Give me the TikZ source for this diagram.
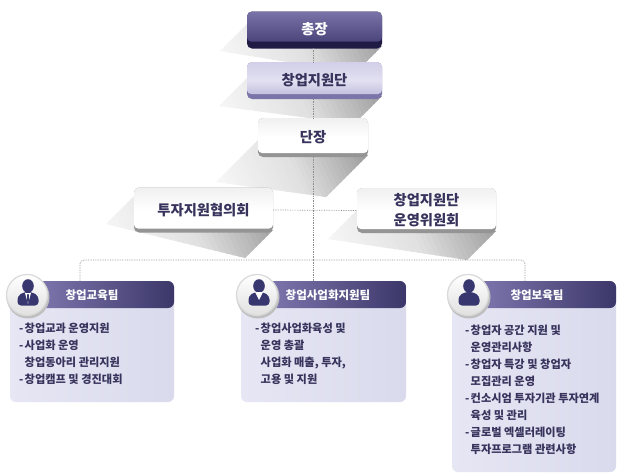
\documentclass[tikz,border=0pt]{standalone}
\usepackage{fontspec}
\setmainfont{Noto Sans CJK KR}
\usetikzlibrary{calc}
\definecolor{ink}{HTML}{37335C}
\definecolor{iconc}{HTML}{37366F}
\definecolor{rule}{HTML}{8E8E8E}
\definecolor{chiefband}{HTML}{1F1B45}
\definecolor{chieftop}{HTML}{7A73A8}
\definecolor{chieflow}{HTML}{3F3A70}
\definecolor{deptband}{HTML}{7B74A8}
\definecolor{depttop}{HTML}{D2CFE8}
\definecolor{deptmid}{HTML}{E2E0F1}
\definecolor{deptlow}{HTML}{B9B4D8}
\definecolor{panelL}{HTML}{E6E6F4}
\definecolor{panelR}{HTML}{D9DAEC}
\definecolor{bandL}{HTML}{8A83BC}
\definecolor{bandR}{HTML}{3C3769}
\newcommand{\longshade}[5]{% left top right bottom length
  \begin{scope}
    \clip (#1,#2) -- (#3,#4) -- ({#3-#5},{#4+#5}) -- ({#1-#5},{#2+#5}) -- cycle;
    \pgfmathsetmacro{\cxx}{(#1-#5+#3)/2}
    \pgfmathsetmacro{\cyy}{(#2+#4+#5)/2}
    \pgfmathsetmacro{\hw}{(#3-#1+#5)/2}
    \pgfmathsetmacro{\lenu}{1.33*\hw}
    \begin{scope}[shift={(\cxx,\cyy)},rotate=25]
      \foreach \i in {0,...,44}{
        \pgfmathsetmacro{\tt}{\i/45}
        \pgfmathsetmacro{\pp}{\tt<0.5 ? 24*\tt : 12+76*(\tt-0.5)}
        \fill[black!\pp] ({-\lenu+2*\lenu*\tt},{-2*\hw}) rectangle ({-\lenu+2*\lenu*(\tt+0.03)},{2*\hw});
      }
    \end{scope}
  \end{scope}}
\newcommand{\dl}{\makebox[5.5pt][l]{-}}
\newcommand{\cl}{\hspace*{5.5pt}}
\tikzset{
  x=1pt,y=-1pt,
  boxbase/.style={rounded corners=5pt,inner sep=0pt,align=center,font=\fontsize{14.3}{20}\selectfont\bfseries,text=ink},
  whitebox/.style={boxbase,fill=black!42,
    path picture={\shade[rounded corners=4pt,top color=black!6,bottom color=white,middle color=white]
      ([yshift=0.5pt]path picture bounding box.north west) rectangle ([yshift=4pt]path picture bounding box.south east);}},
  chiefbox/.style={boxbase,fill=chiefband,text=white,
    path picture={\shade[rounded corners=4pt,top color=chieftop,bottom color=chieflow]
      (path picture bounding box.north west) rectangle ([yshift=7pt]path picture bounding box.south east);}},
  deptbox/.style={boxbase,fill=deptband,
    path picture={\shade[rounded corners=4pt,top color=depttop,bottom color=deptlow,middle color=deptmid]
      (path picture bounding box.north west) rectangle ([yshift=5pt]path picture bounding box.south east);}},
  link/.style={draw=rule,densely dotted,line width=0.7pt},
  teambox/.style={rounded corners=6pt,inner sep=0pt,left color=panelL,right color=panelR},
  teamhead/.style={font=\fontsize{11.5}{14}\selectfont\bfseries,text=white},
  teambody/.style={align=left,anchor=north west,inner sep=0pt,text=ink,font=\fontsize{11.2}{17}\selectfont\bfseries},
  portrait/.style={circle,minimum size=41pt,inner sep=0pt,draw=black!15,line width=1.2pt,
    top color=white,bottom color=black!12},
}
\newcommand{\teamband}[4]{% left top right bottom
  \shade[left color=bandL,right color=bandR]
    [rounded corners=6pt] (#1,#4) -- (#1,#2) -- (#3,#2) -- (#3,#4) [sharp corners] -- cycle;}
\newcommand{\personbody}[2]{% cx cy
  \fill[iconc] ({#1},{#2-9}) ellipse (5.8pt and 6.8pt);
  \fill[iconc,rounded corners=3.5pt] ({#1-10.5},{#2+10.5}) -- ({#1-10.5},{#2+1}) -- ({#1-4},{#2-3}) -- ({#1+4},{#2-3}) -- ({#1+10.5},{#2+1}) -- ({#1+10.5},{#2+10.5}) -- cycle;}
\begin{document}
\begin{tikzpicture}
\useasboundingbox (0,0) rectangle (624,474);
\fill[white] (0,0) rectangle (624,474);
% long shadows
\longshade{247}{24}{382}{46}{27}
\longshade{247}{78}{382}{96}{28}
\longshade{258}{140}{368}{155}{42}
\longshade{134}{196}{273}{230}{28}
\longshade{357}{210}{496}{231}{29}
% boxes
\node[chiefbox,minimum width=135pt,minimum height=37pt] (chief) at (314.5,30) {\raisebox{3pt}{총장}};
\node[deptbox,minimum width=135pt,minimum height=37pt] (dept) at (314.5,80.5) {\raisebox{3pt}{창업지원단}};
\node[whitebox,minimum width=110pt,minimum height=39pt] (lead) at (313,137.5) {\raisebox{2pt}{단장}};
\node[whitebox,minimum width=139pt,minimum height=45pt] (invest) at (203.5,210) {\raisebox{2pt}{투자지원협의회}};
\node[whitebox,minimum width=139pt,minimum height=45pt] (board) at (426.5,210.5) {창업지원단\\운영위원회};
% connectors
\coordinate (bus) at (313,260);
\coordinate (drop1) at (80,281);
\coordinate (drop2) at (313,281);
\coordinate (drop3) at (525,281);
\coordinate (leadfoot) at (313,157);
\draw[link] (313,48) -- (313,62);
\draw[link] (313,99) -- (313,118);
\draw[link] (leadfoot) -- (bus);
\draw[link] (invest.east) -- (board.west);
\draw[link,rounded corners=4pt] (drop1) |- (bus);
\draw[link,rounded corners=4pt] (drop3) |- (bus);
\draw[link] (bus) -- (drop2);
% team panels
\node[teambox,minimum width=164pt,minimum height=121pt] (panelA) at (92,341.5) {};
\node[teambox,minimum width=165pt,minimum height=121pt] (panelB) at (323.5,341.5) {};
\node[teambox,minimum width=164pt,minimum height=191pt] (panelC) at (534,376.5) {};
\teamband{10}{281}{174}{308}
\teamband{241}{281}{406}{308}
\teamband{452}{281}{616}{308}
\node[teamhead] (headA) at (92,295) {창업교육팀};
\node[teamhead] (headB) at (328,295) {창업사업화지원팀};
\node[teamhead] (headC) at (537,295) {창업보육팀};
% portraits
\fill[black!25] (28,297) circle (21.5pt);
\fill[black!25] (258,297) circle (21.5pt);
\fill[black!25] (469,297) circle (21.5pt);
\node[portrait] (faceA) at (27,295) {};
\node[portrait] (faceB) at (257,295) {};
\node[portrait] (faceC) at (468,295) {};
\personbody{28}{295}
\fill[white] (25,293) -- (31,293) -- (28,304) -- cycle;
\fill[iconc] (27.3,294) -- (28.7,294) -- (29.1,300) -- (28,304) -- (26.9,300) -- cycle;
\personbody{259}{295}
\fill[white] (255,292) -- (263,292) -- (259,300) -- cycle;
\personbody{469}{295}
% team texts
\node[teambody] (textA) at (19,323) {\dl 창업교과 운영지원\\\dl 사업화 운영\\\cl 창업동아리 관리지원\\\dl 창업캠프 및 경진대회};
\node[teambody] (textB) at (255,323) {\dl 창업사업화육성 및\\\cl 운영 총괄\\\cl 사업화 매출, 투자,\\\cl 고용 및 지원};
\node[teambody] (textC) at (465,325) {\dl 창업자 공간 지원 및\\\cl 운영관리사항\\\dl 창업자 특강 및 창업자\\\cl 모집관리 운영\\\dl 컨소시엄 투자기관 투자연계\\\cl 육성 및 관리\\\dl 글로벌 엑셀러레이팅\\\cl 투자프로그램 관련사항};
\end{tikzpicture}
\end{document}
